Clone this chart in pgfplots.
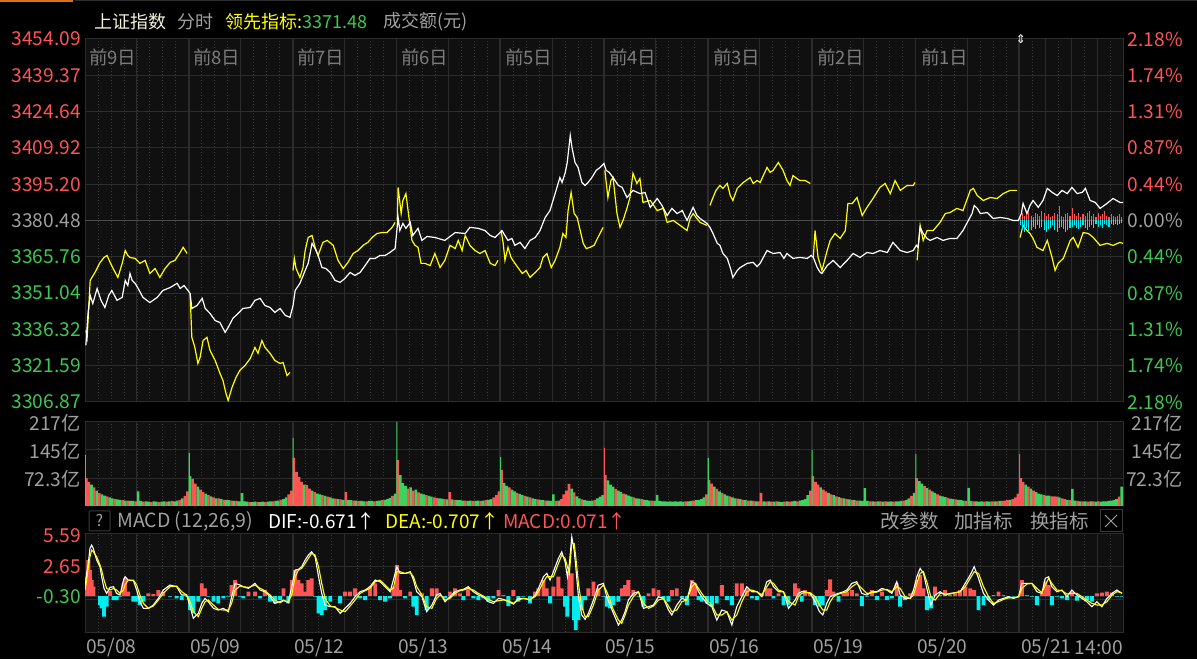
\documentclass[border=0pt]{standalone}
\usepackage{fontspec}
\setmainfont{Noto Sans CJK SC}
\newfontfamily\dejavu{DejaVu Sans}
\usepackage{pgfplots}
\usepackage{pgfplotstable}
\pgfplotsset{compat=1.18}

\definecolor{bgin}{HTML}{101010}
\definecolor{gridc}{HTML}{2C2C2C}
\definecolor{gridd}{HTML}{3A3A3A}
\definecolor{zeroc}{HTML}{4A4A4A}
\definecolor{upred}{HTML}{FF5454}
\definecolor{dngreen}{HTML}{3CD25C}
\definecolor{txtgreen}{HTML}{3CC850}
\definecolor{txtgray}{HTML}{A0A0A0}
\definecolor{daygray}{HTML}{7C7C7C}
\definecolor{cyanb}{HTML}{00EEF0}
\definecolor{yel}{HTML}{FFFF00}
\definecolor{hdrw}{HTML}{F2F2DC}
\definecolor{tabor}{HTML}{D9731F}

\newcommand\fs[1]{\fontsize{#1}{#1}\selectfont}

\pgfplotsset{
  panel/.style={
    scale only axis, width=1038pt, xmin=0, xmax=2400,
    axis line style={draw=gridc, line width=1pt},
    tick style={draw=none},
    xticklabels={}, yticklabels={},
    xtick={120,360,600,840,1080,1320,1560,1800,2040,2220,2280,2340},
    minor xtick={0,30,...,2400},
    extra x ticks={240,480,720,960,1200,1440,1680,1920,2160},
    extra x tick labels={},
    extra x tick style={grid=major, major grid style={draw=gridc, line width=1.8pt}},
    xmajorgrids, xminorgrids, ymajorgrids,
    major grid style={draw=gridc, line width=1pt},
    minor grid style={draw=gridd, line width=0.8pt, dash pattern=on 1pt off 2pt},
  }
}

% volume, one bar per 6 minutes (red / green column)
\pgfplotstableread{
x r g
3 72 0
9 62 0
15 0 55
21 48 0
27 0 40
33 33 0
39 0 30
45 0 27
51 25 0
57 0 22
63 0 20
69 18 0
75 0 17
81 0 16
87 15 0
93 0 14
99 14 0
105 0 13
111 0 13
117 12 0
123 0 38
129 0 13
135 11 0
141 0 12
147 0 11
153 10 0
159 0 12
165 0 11
171 10 0
177 0 11
183 0 12
189 11 0
195 0 12
201 13 0
207 0 12
213 0 14
219 16 0
225 0 20
231 26 0
237 38 0
243 0 77
249 70 0
255 58 0
261 0 50
267 42 0
273 36 0
279 0 32
285 28 0
291 0 25
297 22 0
303 0 20
309 20 0
315 0 18
321 16 0
327 0 15
333 0 15
339 14 0
345 0 13
351 13 0
357 0 12
363 0 33
369 0 12
375 0 11
381 10 0
387 0 10
393 0 11
399 10 0
405 0 10
411 0 11
417 10 0
423 0 11
429 0 12
435 12 0
441 0 13
447 0 14
453 16 0
459 0 18
465 0 22
471 30 0
477 40 0
483 124 0
489 88 0
495 75 0
501 62 0
507 0 55
513 54 0
519 45 0
525 0 40
531 36 0
537 0 32
543 0 30
549 28 0
555 0 26
561 24 0
567 0 22
573 0 20
579 19 0
585 0 18
591 17 0
597 0 16
603 36 0
609 0 16
615 0 15
621 14 0
627 0 14
633 13 0
639 0 13
645 0 12
651 12 0
657 0 13
663 0 13
669 12 0
675 0 13
681 0 14
687 15 0
693 0 16
699 0 18
705 0 21
711 26 0
717 0 32
723 119 0
729 0 80
735 0 59
741 0 52
747 45 0
753 0 48
759 40 0
765 0 42
771 35 0
777 0 32
783 0 30
789 28 0
795 0 26
801 0 24
807 22 0
813 21 0
819 0 20
825 0 19
831 18 0
837 0 17
843 36 0
849 0 17
855 16 0
861 0 15
867 0 15
873 0 14
879 14 0
885 0 13
891 0 14
897 13 0
903 0 13
909 0 14
915 13 0
921 0 14
927 15 0
933 0 16
939 0 18
945 22 0
951 28 0
957 38 0
963 93 0
969 0 59
975 0 52
981 48 0
987 0 42
993 0 38
999 34 0
1005 0 31
1011 0 28
1017 26 0
1023 0 24
1029 22 0
1035 0 20
1041 0 18
1047 17 0
1053 0 16
1059 0 15
1065 14 0
1071 0 14
1077 0 13
1083 0 30
1089 13 0
1095 0 14
1101 18 0
1107 30 0
1113 40 0
1119 57 0
1125 0 45
1131 35 0
1137 0 25
1143 0 20
1149 17 0
1155 0 15
1161 0 14
1167 0 13
1173 0 14
1179 16 0
1185 0 20
1191 0 24
1197 0 28
1203 80 0
1209 0 66
1215 0 55
1221 0 50
1227 44 0
1233 0 40
1239 0 36
1245 32 0
1251 0 30
1257 0 27
1263 0 24
1269 22 0
1275 0 20
1281 0 19
1287 18 0
1293 0 16
1299 0 15
1305 0 14
1311 14 0
1317 0 13
1323 0 28
1329 0 13
1335 0 12
1341 0 12
1347 0 11
1353 0 12
1359 0 11
1365 0 12
1371 0 11
1377 0 12
1383 0 11
1389 12 0
1395 0 12
1401 0 13
1407 14 0
1413 0 15
1419 0 16
1425 0 18
1431 0 22
1437 30 0
1443 67 0
1449 58 0
1455 0 50
1461 44 0
1467 0 38
1473 34 0
1479 0 30
1485 0 27
1491 25 0
1497 0 22
1503 0 20
1509 19 0
1515 0 18
1521 16 0
1527 0 15
1533 14 0
1539 0 14
1545 13 0
1551 0 12
1557 12 0
1563 34 0
1569 0 12
1575 11 0
1581 0 12
1587 11 0
1593 0 11
1599 12 0
1605 0 11
1611 0 10
1617 11 0
1623 0 12
1629 11 0
1635 0 12
1641 0 13
1647 12 0
1653 0 14
1659 0 15
1665 0 18
1671 0 28
1677 40 0
1683 77 0
1689 62 0
1695 55 0
1701 0 48
1707 42 0
1713 38 0
1719 0 34
1725 30 0
1731 0 28
1737 25 0
1743 0 23
1749 21 0
1755 0 20
1761 18 0
1767 0 17
1773 16 0
1779 0 15
1785 14 0
1791 0 14
1797 0 13
1803 0 46
1809 0 13
1815 12 0
1821 0 12
1827 11 0
1833 0 12
1839 12 0
1845 0 11
1851 12 0
1857 0 11
1863 0 12
1869 11 0
1875 0 12
1881 0 12
1887 0 13
1893 14 0
1899 0 16
1905 0 20
1911 26 0
1917 0 34
1923 72 0
1929 0 64
1935 0 58
1941 52 0
1947 0 46
1953 42 0
1959 0 38
1965 0 34
1971 30 0
1977 0 27
1983 0 25
1989 0 23
1995 21 0
2001 0 19
2007 0 18
2013 17 0
2019 0 16
2025 0 15
2031 0 14
2037 13 0
2043 0 47
2049 0 13
2055 12 0
2061 0 12
2067 0 11
2073 0 12
2079 11 0
2085 0 12
2091 0 11
2097 12 0
2103 0 12
2109 12 0
2115 0 13
2121 13 0
2127 14 0
2133 15 0
2139 0 16
2145 18 0
2151 22 0
2157 32 0
2163 72 0
2169 62 0
2175 0 55
2181 50 0
2187 0 45
2193 40 0
2199 0 36
2205 0 32
2211 0 30
2217 28 0
2223 0 27
2229 0 27
2235 25 0
2241 25 0
2247 24 0
2253 0 22
2259 20 0
2265 18 0
2271 0 16
2277 15 0
2283 0 44
2289 0 14
2295 13 0
2301 0 12
2307 12 0
2313 0 12
2319 11 0
2325 0 12
2331 12 0
2337 0 11
2343 12 0
2349 0 11
2355 0 12
2361 0 12
2367 0 13
2373 0 14
2379 0 15
2385 0 18
2391 24 0
2397 0 50
}\voltab

% first-minute spike of every day
\pgfplotstableread{
x r g
1 0 132
241 0 137
481 0 176
721 0 217
961 0 127
1201 150 0
1441 0 124
1681 0 145
1921 0 134
2161 134 0
}\spiketab

% MACD: minute, DIF, DEA, histogram
\pgfplotstableread{
m dif dea h
0 0.69 0.54 0.0
3.8 2.04 1.44 1.74
7.7 2.94 2.64 3.24
11.5 4.29 3.54 2.34
15.4 4.59 4.14 1.44
19.2 4.29 3.99 0.84
27 3.24 3.54 0.0
34.7 2.64 2.79 -0.81
38.5 1.74 2.34 -1.11
44 0.69 1.44 -1.86
50 0.24 0.69 -0.96
58 0.78 0.54 0.45
66 0.84 0.69 -0.36
73 0.24 0.54 -0.36
81 0.09 0.24 -0.06
89 1.44 0.54 1.14
92.5 1.74 0.99 1.59
100 1.44 1.44 0.39
112 1.38 1.44 -0.51
119.5 0.54 0.99 -0.51
127 -0.51 0.09 -0.81
135 -1.11 -0.66 -0.51
146.5 -1.11 -1.11 0.24
158 -0.81 -0.9 0.18
169.6 -0.21 -0.36 0.54
181 0.54 0.24 0.39
196.6 0.99 0.84 -0.06
212 0.84 0.9 -0.21
223.6 0.09 0.39 -0.36
235 0.09 0.09 -0.06
243 -0.96 -0.51 -1.26
250.5 -2.01 -1.41 -1.56
262 -1.56 -1.86 -0.51
270 -0.66 -1.11 1.14
277.5 -0.21 -0.51 0.69
285 -0.51 -0.36 -0.06
297 -1.11 -0.81 -0.51
308 -1.26 -1.2 -0.66
320 -1.11 -1.26 -0.21
331.5 -1.41 -1.26 -0.06
339 -0.06 -0.66 0.99
347 1.14 0.54 1.44
358.5 0.99 0.9 -0.06
366 0.84 0.84 -0.21
378 0.69 0.78 0.39
393 1.14 0.99 0.39
405 0.54 0.69 -0.21
416 0.39 0.48 0.54
428 -0.06 0.09 -0.51
439 -0.66 -0.36 -0.66
451 -0.51 -0.6 -0.36
459 -0.36 -0.42 0.69
470 -0.6 -0.51 -0.66
478 0.84 0.09 1.44
486 2.34 1.74 2.34
493.4 2.4 2.34 1.44
501 2.64 2.49 1.14
509 3.24 2.94 0.39
516.5 3.69 3.39 1.44
524 3.99 3.84 1.59
532 3.54 3.69 -0.06
540 1.74 2.64 -1.56
547.4 0.24 1.14 -1.71
555 -0.81 -0.21 -1.26
567 -0.96 -0.9 -0.51
578 -0.96 -1.02 0
590 -1.56 -1.26 -0.66
601.4 -1.11 -1.41 0.39
613 -0.66 -0.9 0.39
624.5 -0.06 -0.36 0.69
636 0.39 0.24 -0.21
647.6 0.54 0.48 -0.36
659 0.84 0.69 0.84
671 1.44 1.29 1.14
682 1.29 1.44 -0.36
694 0.84 0.99 -0.51
705.5 0.39 0.54 -0.21
713 1.44 0.69 0.84
721 2.64 2.19 2.79
728.6 2.04 2.19 0.54
740 2.04 2.04 -0.21
752 2.19 2.1 0.39
759.4 1.44 1.74 -0.96
767 0.39 0.84 -1.71
779 -0.06 0.09 0.24
790 -1.41 -0.96 -1.26
802 -0.81 -1.11 0.69
813 0.09 -0.21 0.69
821 0.24 0.09 0
832.5 -0.51 -0.36 -0.21
844 -0.06 -0.21 0.39
855.6 0.39 0.24 0.69
867 0.54 0.48 0.24
875 0.6 0.54 -0.36
886 0.84 0.69 0.6
898 0.39 0.54 -0.21
909.6 0.09 0.24 -0.36
921 -0.06 0.0 -0.21
932.7 -0.51 -0.3 -0.51
944.3 -0.66 -0.51 -0.21
956 -0.21 -0.42 0.54
967.4 -0.3 -0.36 0.09
979 -0.51 -0.42 -0.9
990.6 -0.72 -0.66 0.54
1002 -0.21 -0.36 -0.51
1013.7 -0.21 -0.21 -0.06
1029 -0.36 -0.3 -0.66
1040.7 0.09 -0.06 0.39
1048.4 0.69 0.39 0.69
1060 1.74 1.29 1.44
1067.6 2.04 1.74 0.69
1075.4 1.44 1.74 -0.66
1083 2.19 1.74 0.84
1094.6 3.39 2.94 1.74
1102.3 3.99 3.69 0.69
1110 3.09 3.39 -0.96
1115.4 1.74 2.64 -1.86
1120 2.94 2.04 2.04
1125.5 5.34 4.74 2.04
1131 4.14 4.74 -2.16
1134.7 2.64 3.54 -3.06
1140.9 -0.06 1.14 -2.16
1148.6 -1.71 -0.96 -1.26
1156.3 -2.1 -1.86 -0.36
1164 -1.56 -1.86 0.69
1175.6 -0.36 -0.81 1.29
1187 0.99 0.54 0.69
1198.7 1.14 0.99 -0.06
1206.4 -0.06 0.39 -0.96
1214 -0.81 -0.36 -1.11
1221.8 -1.56 -1.26 -0.81
1233.4 -2.61 -2.16 -0.51
1241 -2.16 -2.46 0.69
1248.8 -1.41 -1.71 0.99
1256.5 -0.36 -0.81 1.44
1268 0.24 -0.06 0.54
1279.7 0.39 0.39 -0.06
1291.2 -1.11 -0.66 -0.96
1302.8 -0.96 -1.11 0.24
1314.4 -0.81 -0.9 0.69
1326 -0.06 -0.36 0.54
1337.5 -0.21 -0.21 -0.36
1349 -1.26 -0.9 -0.51
1356.8 -1.71 -1.41 0.54
1368.3 -0.81 -1.26 0.69
1380 -0.21 -0.51 -0.21
1391.5 -0.36 -0.36 -0.81
1403 1.29 0.84 1.44
1410.8 1.14 1.14 1.14
1418.5 0.39 0.69 -0.36
1426 -0.06 0.24 -0.51
1437.7 -0.66 -0.36 -0.66
1449.3 -0.96 -0.81 -0.96
1460.8 -2.16 -1.71 -0.66
1472.4 -1.26 -1.71 0.99
1484 -1.41 -1.41 -0.36
1495.6 -2.61 -2.16 -0.81
1507 -0.96 -1.71 1.14
1518.7 -0.06 -0.51 1.14
1530.3 0.84 0.39 0.69
1541.8 0.39 0.54 -0.21
1553.4 0.39 0.39 -0.36
1565 -0.06 0.09 0.24
1576.5 1.29 0.84 0.69
1584.2 1.44 1.29 0.69
1592 0.84 1.14 -0.21
1603.5 0.39 0.54 0.24
1615 0.39 0.39 -0.81
1626.6 -1.11 -0.51 -0.81
1641.9 -0.36 -0.81 1.14
1649.6 0.24 -0.06 0.69
1657.3 0.39 0.24 -0.51
1665 0.39 0.3 0.54
1676.6 0.24 0.3 0.24
1688.2 -0.51 -0.06 -0.81
1698.2 -1.41 -0.81 -0.96
1705.9 -1.71 -1.26 -0.81
1715.1 -0.66 -1.26 0.54
1722.9 -0.06 -0.51 1.5
1730.6 0.09 -0.06 0.39
1742.1 0.24 0.18 -0.51
1753.7 0.39 0.3 0.24
1761.4 0.54 0.39 0.39
1773 1.14 0.84 0.54
1784.5 1.29 1.14 0.24
1796.1 0.24 0.69 -0.9
1807.7 0.09 0.24 -0.06
1819.2 0.39 0.3 0.54
1830.8 0.39 0.36 -0.36
1842.4 0.69 0.54 0.39
1854 0.54 0.6 -0.36
1865.5 0.24 0.39 -0.21
1877 1.29 0.84 1.14
1884.8 0.09 0.69 -0.96
1896.3 -0.21 -0.06 -0.36
1907.9 -0.21 -0.21 0.24
1915.6 0.54 0.09 0.39
1923.3 1.74 1.14 1.44
1931 2.49 2.04 1.89
1938.7 2.04 2.19 0.69
1946.4 0.69 1.29 -1.26
1955.7 -0.81 -0.06 -1.11
1965.7 0.09 -0.36 0.84
1977.3 0.39 0.24 0.09
1988.8 0.09 0.18 0.54
2000.4 0.24 0.18 0.09
2012 0.3 0.3 0.24
2023.5 0.39 0.39 0.54
2035.1 1.14 0.84 0.84
2046.7 1.89 1.59 0.69
2056 2.64 2.19 0.54
2066 1.59 2.04 -1.26
2077.5 0.24 0.84 -0.81
2089 -0.36 -0.06 -0.36
2100.6 -0.81 -0.66 0.09
2112.2 -0.36 -0.51 0.39
2123.8 -0.21 -0.3 0.09
2135.3 -0.06 -0.15 -0.21
2146.9 -0.21 -0.15 -0.06
2158.5 -0.06 -0.06 -0.06
2166.2 1.14 0.69 1.44
2177.7 1.14 1.08 0.09
2189.3 1.14 1.14 -0.06
2200.9 0.39 0.69 -0.81
2212.4 0.24 0.3 0.24
2220.2 1.59 0.99 1.29
2227.9 1.74 1.59 0.99
2235.6 0.84 1.14 -0.81
2247.1 0.39 0.54 -0.06
2258.7 0.54 0.48 -0.21
2270.3 -0.06 0.18 -0.36
2281.8 0.54 0.24 0.39
2293.4 0.09 0.24 -0.42
2305 -0.21 -0.06 -0.06
2316.5 -0.51 -0.36 -0.36
2328 -0.96 -0.66 -0.51
2339.7 -0.51 -0.81 0.24
2351.2 -0.96 -0.81 0.3
2362.8 -0.21 -0.51 0.39
2374.4 0.24 0.09 0.3
2385.9 0.54 0.39 -0.06
2397.5 0.24 0.3 -0.06
}\macdtab

% last day: bars round the 0.00% line (price points above / below)
\pgfplotstableread{
m r c
2162.5 1.5 -2
2167.5 3 -3.5
2172.5 2 -4.5
2177.5 2.5 -3
2182.5 4 -4.5
2187.5 2 -4
2192.5 1.5 -2.5
2197.5 3 -3.5
2202.5 2.5 -2
2207.5 2 -3
2212.5 4 -2.5
2217.5 3 -4
2222.5 2 -4.5
2227.5 2.5 -3.5
2232.5 1.5 -3
2237.5 2 -2
2242.5 3 -4
2247.5 2.5 -4.5
2252.5 6 -3
2257.5 2 -2.5
2262.5 1.5 -3.5
2267.5 2.5 -4.5
2272.5 3 -4
2277.5 2 -3
2282.5 5 -2.5
2287.5 2.5 -2
2292.5 2 -3
2297.5 3 -3.5
2302.5 1.5 -2.5
2307.5 2.5 -2
2312.5 2 -3
2317.5 3 -4
2322.5 4 -2.5
2327.5 2 -2
2332.5 2.5 -3
2337.5 1.5 -1.5
2342.5 3 -2.5
2347.5 2 -2
2352.5 2.5 -3
2357.5 4 -1.5
2362.5 2 -2
2367.5 1.5 -2.5
2372.5 2.5 -1.5
2377.5 2 -2
2382.5 1.5 -1.5
2387.5 2 -2
2392.5 2.5 -1.5
2397.5 1.5 -1
}\lastbars

\begin{document}
\begin{tikzpicture}
\useasboundingbox (0,0) rectangle (1197pt,659pt);
\fill[black] (0,0) rectangle (1197pt,659pt);
\begin{scope}[x=1pt,y=-1pt,yshift=659pt]
  \fill[bgin] (85,39) rectangle (1123,402);
  \fill[bgin] (85,422) rectangle (1123,506);
  \fill[bgin] (85,534) rectangle (1123,632);
  \draw[tabor, line width=2pt] (0,1) -- (73,1);
  \draw[gridc, line width=1pt] (75,0.5) -- (1197,0.5);
\end{scope}

% ---- price panel
\begin{axis}[panel, at={(85pt,257pt)}, anchor=south west, height=363pt,
  ymin=3306.87, ymax=3454.09,
  ytick={3306.87,3321.59,3336.32,3351.04,3365.76,3380.48,3395.20,3409.92,3424.64,3439.37,3454.09},
  extra y ticks={3380.48}, extra y tick labels={},
  extra y tick style={grid=major, major grid style={draw=zeroc, line width=1.8pt}}]
\addplot[yel, line width=1.2pt, unbounded coords=jump] table {
m p
2 3335.9
5 3333.1
12 3356.2
23 3359.4
35 3363.5
44 3365.5
51 3366.3
58 3363.5
65 3361.0
76 3357.4
86 3363.1
93 3368.3
99 3366.3
104 3365.5
116 3365.1
127 3363.1
139 3364.3
150 3359.0
162 3361.0
173 3357.4
185 3361.0
197 3363.5
208 3364.3
220 3367.5
227 3369.6
236 3367.1
nan nan
243 3350.9
247 3333.1
254 3329.0
261 3322.5
266 3324.9
273 3331.8
282 3333.1
289 3327.8
301 3323.7
312 3318.5
319 3315.6
326 3310.3
331 3307.5
340 3312.8
349 3316.8
358 3319.7
370 3321.7
382 3324.5
393 3329.0
400 3326.6
409 3331.8
416 3329.0
428 3326.6
439 3323.7
451 3322.5
458 3322.9
467 3317.6
474 3318.9
nan nan
481 3360.2
484 3365.1
488 3361.0
497 3357.4
504 3361.4
509 3368.3
516 3373.6
525 3374.4
532 3369.6
539 3366.3
550 3371.6
560 3372.4
574 3370.4
585 3364.3
597 3361.0
608 3363.5
620 3367.1
631 3368.3
643 3370.4
654 3371.6
664 3373.6
675 3375.2
687 3375.6
698 3375.6
710 3377.7
717 3379.7
nan nan
722 3380.5
724 3393.9
731 3383.3
735 3388.6
742 3391.4
749 3381.7
756 3372.4
763 3370.4
770 3369.6
777 3363.1
786 3363.1
798 3362.2
809 3367.1
821 3361.4
832 3364.3
844 3370.4
856 3369.1
863 3372.4
872 3368.3
879 3374.4
890 3370.4
902 3368.3
913 3367.1
925 3368.3
937 3363.1
948 3362.2
955 3364.3
nan nan
962 3376.4
967 3371.2
971 3364.3
978 3369.6
985 3365.5
994 3363.1
1001 3361.4
1011 3359.0
1020 3360.2
1029 3357.4
1041 3359.4
1052 3361.4
1059 3365.5
1068 3367.1
1078 3361.4
1087 3364.3
1098 3369.6
1105 3375.2
1112 3373.6
1117 3384.5
1124 3391.8
1131 3383.3
1138 3381.7
1145 3376.4
1152 3371.2
1159 3369.1
1168 3369.6
1177 3370.4
1186 3373.6
1198 3377.7
nan nan
1202 3400.8
1209 3389.8
1216 3396.7
1221 3397.9
1230 3383.3
1237 3377.7
1244 3380.5
1253 3385.4
1260 3389.8
1267 3399.6
1276 3395.5
1283 3397.5
1290 3387.8
1307 3388.6
1323 3384.5
1337 3385.4
1346 3379.7
1360 3380.5
1376 3378.5
1392 3376.4
1399 3381.3
1406 3383.3
1422 3379.7
1438 3378.5
nan nan
1445 3386.6
1452 3389.8
1459 3392.7
1468 3394.7
1475 3393.5
1485 3395.5
1492 3390.6
1498 3388.6
1508 3393.5
1522 3395.9
1538 3397.9
1545 3395.5
1554 3396.7
1561 3395.9
1577 3402.0
1584 3400.0
1591 3400.8
1603 3404.0
1614 3400.8
1623 3396.7
1630 3394.7
1637 3398.7
1646 3397.5
1653 3396.7
1665 3396.7
1677 3395.5
nan nan
1684 3365.5
1688 3376.4
1695 3365.5
1704 3360.2
1716 3368.3
1723 3372.4
1734 3375.2
1746 3373.2
1758 3376.4
1764 3387.4
1774 3387.4
1785 3389.8
1797 3382.5
1808 3385.8
1822 3389.4
1838 3393.9
1850 3395.5
1862 3391.4
1873 3396.7
1885 3392.7
1901 3394.7
1915 3394.7
1919 3395.9
nan nan
1924 3364.3
1931 3378.5
1938 3372.4
1947 3376.4
1961 3376.4
1977 3379.7
1989 3383.3
2000 3383.7
2016 3385.4
2030 3384.5
2047 3392.7
2054 3393.5
2063 3390.6
2077 3388.6
2093 3389.8
2109 3389.4
2123 3391.4
2139 3392.7
2155 3392.7
nan nan
2162 3373.6
2169 3378.5
2178 3376.4
2185 3375.2
2192 3373.2
2201 3369.6
2215 3368.3
2225 3372.4
2236 3365.5
2243 3360.2
2250 3363.1
2262 3365.1
2278 3372.4
2285 3373.6
2296 3369.6
2308 3375.6
2320 3375.2
2331 3373.6
2347 3370.4
2363 3371.2
2377 3370.4
2393 3371.6
2400 3371.2
};
\addplot[white, line width=1.2pt] table {
m p
2 3329.8
7 3342.8
12 3350.1
18 3346.8
28 3352.9
37 3348.1
46 3345.2
55 3350.1
62 3352.1
74 3348.1
86 3349.3
93 3356.2
99 3354.1
104 3359.0
109 3356.2
116 3355.0
123 3352.9
134 3349.3
150 3347.2
167 3349.3
180 3352.1
197 3353.3
213 3355.0
220 3352.9
229 3354.1
238 3352.1
243 3350.9
247 3344.8
259 3346.0
271 3348.9
278 3344.8
289 3342.8
301 3339.9
312 3339.1
324 3335.1
331 3337.1
342 3340.8
354 3342.8
365 3344.8
382 3345.2
393 3348.1
405 3348.9
416 3346.0
428 3345.2
439 3343.2
451 3344.8
463 3342.0
474 3341.2
481 3346.0
486 3352.1
497 3355.0
509 3360.2
516 3363.1
525 3371.2
532 3369.1
539 3366.3
548 3361.4
557 3361.0
567 3359.4
578 3356.2
590 3355.4
601 3357.0
613 3359.4
624 3358.2
636 3359.4
648 3362.3
659 3365.1
671 3365.1
682 3366.3
694 3366.3
705 3367.5
717 3369.1
724 3381.7
728 3376.4
735 3379.3
742 3377.3
752 3379.7
758 3374.4
770 3377.3
779 3372.4
791 3374.0
809 3373.6
832 3372.4
856 3375.6
879 3375.2
890 3377.7
909 3377.3
925 3376.4
937 3374.4
948 3373.6
960 3375.6
964 3376.4
971 3374.4
978 3372.4
987 3373.2
994 3370.4
1006 3371.6
1017 3369.1
1029 3372.4
1041 3373.6
1052 3376.4
1064 3381.7
1075 3384.5
1087 3391.4
1098 3397.9
1103 3395.9
1110 3399.6
1115 3404.0
1122 3415.0
1126 3410.1
1133 3404.0
1140 3402.0
1149 3395.9
1156 3394.7
1163 3395.9
1172 3397.9
1182 3400.8
1191 3402.0
1200 3403.6
1205 3400.8
1212 3400.0
1221 3397.9
1233 3394.7
1242 3393.9
1253 3389.8
1267 3392.7
1283 3391.4
1295 3391.8
1307 3385.8
1323 3389.4
1334 3386.6
1346 3382.5
1357 3385.4
1369 3383.3
1381 3384.5
1392 3380.5
1406 3385.8
1415 3382.5
1422 3381.3
1438 3379.3
1445 3377.7
1452 3375.2
1462 3371.2
1468 3370.4
1475 3367.1
1485 3365.1
1492 3361.4
1498 3357.4
1508 3360.2
1515 3361.4
1531 3363.1
1545 3363.5
1554 3361.8
1561 3363.1
1577 3368.3
1591 3367.1
1607 3367.5
1616 3365.1
1623 3367.1
1637 3365.1
1653 3365.5
1670 3365.1
1679 3366.3
1684 3365.5
1693 3361.4
1700 3359.4
1704 3359.0
1716 3362.2
1730 3364.3
1746 3361.4
1762 3364.3
1776 3367.1
1792 3365.5
1808 3367.5
1822 3367.1
1838 3368.3
1855 3367.5
1868 3371.6
1885 3368.3
1901 3367.5
1915 3368.3
1922 3370.4
1926 3369.6
1931 3377.7
1938 3375.2
1947 3373.2
1954 3372.4
1970 3373.6
1984 3372.4
2000 3373.2
2016 3373.2
2030 3376.4
2040 3379.7
2051 3383.3
2056 3386.6
2063 3385.4
2070 3383.3
2086 3383.7
2100 3381.3
2116 3381.7
2132 3381.3
2146 3380.5
2158 3380.5
2165 3383.3
2169 3387.4
2178 3383.3
2185 3386.6
2192 3388.6
2204 3385.8
2215 3388.6
2225 3393.5
2236 3391.9
2248 3390.6
2259 3392.7
2271 3391.4
2282 3393.9
2294 3391.4
2306 3391.9
2313 3393.5
2324 3388.6
2336 3387.8
2347 3385.4
2363 3387.4
2377 3389.4
2393 3387.8
2400 3387.8
};
\end{axis}

% ---- last-day bars round the 0.00% line (same frame, offsets from 3380.48)
\begin{axis}[scale only axis, width=1038pt, height=363pt, at={(85pt,257pt)}, anchor=south west,
  xmin=0, xmax=2400, ymin=-73.61, ymax=73.61, hide axis]
\addplot[ycomb, upred, line width=1.1pt, mark=none] table[x=m, y=r] {\lastbars};
\addplot[ycomb, cyanb, line width=1.1pt, mark=none] table[x=m, y=c] {\lastbars};
\end{axis}

% ---- volume panel
\begin{axis}[panel, at={(85pt,153pt)}, anchor=south west, height=84pt,
  ymin=0, ymax=217, ytick={72.3,145,217}]
\addplot[ybar, bar width=6, bar shift=0pt, fill=upred, draw=none] table[x=x, y=r] {\voltab};
\addplot[ybar, bar width=6, bar shift=0pt, fill=dngreen, draw=none] table[x=x, y=g] {\voltab};
\addplot[ybar, bar width=2.4, bar shift=0pt, fill=upred, draw=none] table[x=x, y=r] {\spiketab};
\addplot[ybar, bar width=2.4, bar shift=0pt, fill=dngreen, draw=none] table[x=x, y=g] {\spiketab};
\end{axis}

% ---- MACD panel
\begin{axis}[panel, at={(85pt,27pt)}, anchor=south west, height=98pt,
  ymin=-3.24, ymax=5.59, ytick={-0.30,2.65,5.59}]
\addplot[ybar, bar width=9, bar shift=0pt, fill=upred, draw=none, y filter/.expression={max(y,0)}] table[x=m, y=h] {\macdtab};
\addplot[ybar, bar width=9, bar shift=0pt, fill=cyanb, draw=none, y filter/.expression={min(y,0)}] table[x=m, y=h] {\macdtab};
\addplot[white, line width=1.1pt] table[x=m, y=dif] {\macdtab};
\addplot[yel, line width=1.1pt] table[x=m, y=dea] {\macdtab};
\end{axis}

% ---- texts
\begin{scope}[x=1pt,y=-1pt,yshift=659pt]
  \node[anchor=west, text=hdrw, inner sep=0pt] at (94,22) {\fs{18}上证指数};
  \node[anchor=west, text=txtgray, inner sep=0pt] at (177,22) {\fs{18}分时};
  \node[anchor=west, inner sep=0pt] at (225,22) {\fs{18}\textcolor{yel}{领先指标:}\textcolor{txtgreen}{3371.48}};
  \node[anchor=west, text=txtgray, inner sep=0pt] at (383,22) {\fs{18}成交额(元)};
  \node[text=white, inner sep=0pt] at (1021,39) {\dejavu\fs{12}⇕};
  \foreach \x/\t in {89/前9日,193/前8日,297/前7日,401/前6日,505/前5日,609/前4日,713/前3日,817/前2日,921/前1日}
    \node[anchor=west, text=daygray, inner sep=0pt] at (\x,57) {\fs{18.5}\t};
  \foreach \y/\t/\c in {39/3454.09/upred,75.3/3439.37/upred,111.6/3424.64/upred,147.9/3409.92/upred,184.2/3395.20/upred,220.5/3380.48/txtgray,256.8/3365.76/txtgreen,293.1/3351.04/txtgreen,329.4/3336.32/txtgreen,365.7/3321.59/txtgreen,402/3306.87/txtgreen}
    \node[anchor=east, text=\c, inner sep=0pt] at (81,\y) {\fs{19.2}\t};
  \foreach \y/\t/\c in {39/2.18/upred,75.3/1.74/upred,111.6/1.31/upred,147.9/0.87/upred,184.2/0.44/upred,220.5/0.00/txtgray,256.8/0.44/txtgreen,293.1/0.87/txtgreen,329.4/1.31/txtgreen,365.7/1.74/txtgreen,402/2.18/txtgreen}
    \node[anchor=east, text=\c, inner sep=0pt] at (1183,\y) {\fs{19.2}\t\%};
  \foreach \y/\t in {423/217亿,451/145亿,479/72.3亿} {
    \node[anchor=east, text=txtgray, inner sep=0pt] at (81,\y) {\fs{19.2}\t};
    \node[anchor=east, text=txtgray, inner sep=0pt] at (1183,\y) {\fs{19.2}\t};
  }
  \node[anchor=east, text=upred, inner sep=0pt] at (81,536) {\fs{19.2}5.59};
  \node[anchor=east, text=upred, inner sep=0pt] at (81,567) {\fs{19.2}2.65};
  \node[anchor=east, text=txtgreen, inner sep=0pt] at (81,597) {\fs{19.2}-0.30};
  % MACD header
  \draw[gridd, line width=1pt, rounded corners=1pt] (89,511) rectangle (110,531);
  \node[text=txtgray, inner sep=0pt] at (99.5,521) {\fs{16}?};
  \node[anchor=west, text=txtgray, inner sep=0pt] at (117,521) {\fs{19.5}MACD (12,26,9)};
  \node[anchor=west, text=white, inner sep=0pt] at (268,521) {\fs{19}DIF:-0.671↑};
  \node[anchor=west, text=yel, inner sep=0pt] at (385,521) {\fs{19}DEA:-0.707↑};
  \node[anchor=west, text=upred, inner sep=0pt] at (503,521) {\fs{19}MACD:0.071↑};
  \node[anchor=west, text=txtgray, inner sep=0pt] at (880,521) {\fs{19.5}改参数};
  \node[anchor=west, text=txtgray, inner sep=0pt] at (954,521) {\fs{19.5}加指标};
  \node[anchor=west, text=txtgray, inner sep=0pt] at (1030,521) {\fs{19.5}换指标};
  \draw[gridd, line width=1pt] (1100,510) rectangle (1122,532);
  \draw[txtgray, line width=0.8pt] (1105,515) -- (1117,527) (1105,527) -- (1117,515);
  % dates
  \foreach \x/\t in {86/05\slash 08,190/05\slash 09,294/05\slash 12,398/05\slash 13,502/05\slash 14,605/05\slash 15,709/05\slash 16,813/05\slash 19,917/05\slash 20,1021/05\slash 21}
    \node[anchor=west, text=txtgray, inner sep=0pt] at (\x,648) {\fs{19.2}\t};
  \node[anchor=east, text=txtgray, inner sep=0pt] at (1123,648) {\fs{19.2}14:00};
\end{scope}
\end{tikzpicture}
\end{document}
